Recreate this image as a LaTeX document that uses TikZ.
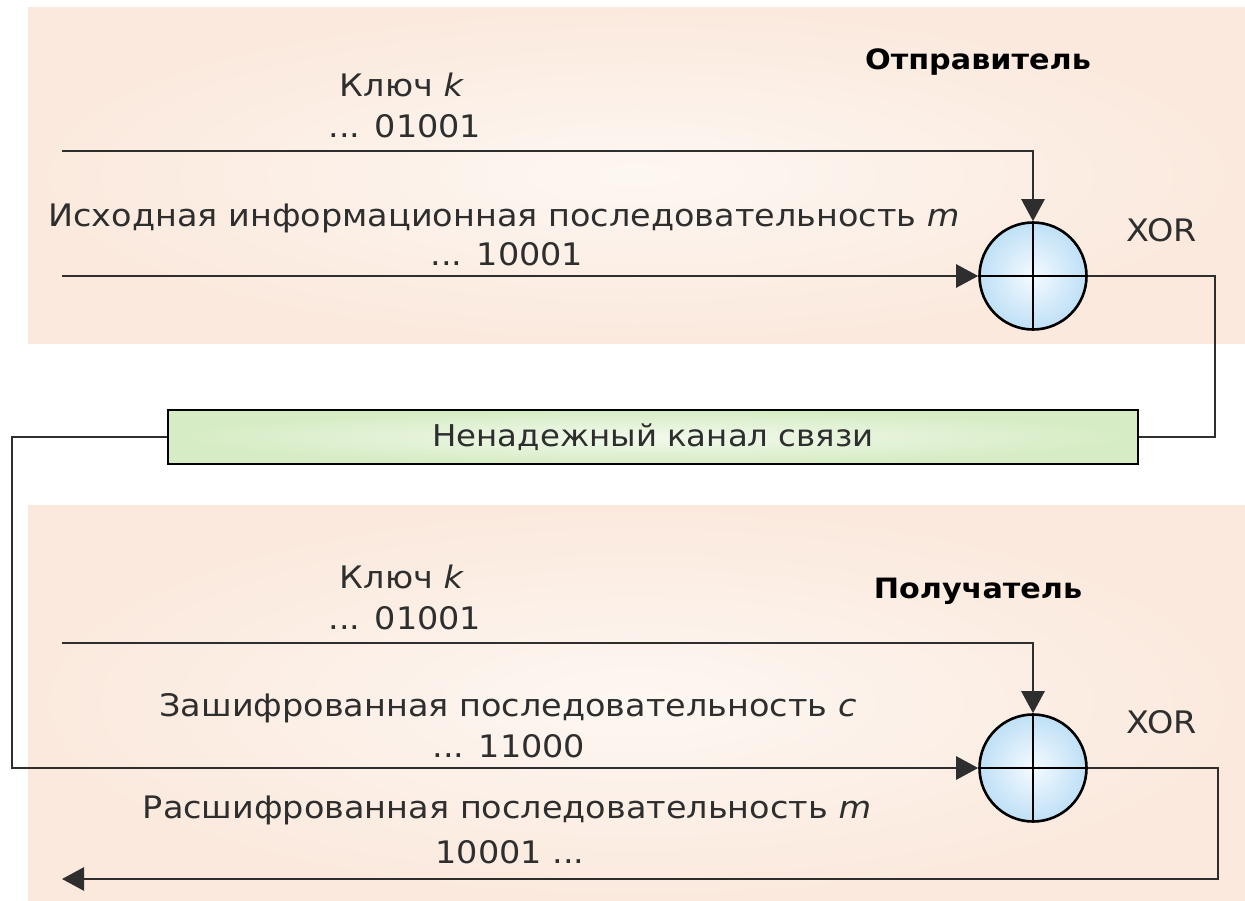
\documentclass[tikz,border=0pt]{standalone}
\usepackage{fontspec}
\setmainfont{DejaVu Sans}[FakeStretch=1.08]
\usetikzlibrary{arrows.meta}
\definecolor{panelout}{HTML}{FBE9DD}
\definecolor{panelin}{HTML}{FDF7F2}
\definecolor{chanout}{HTML}{D6ECC4}
\definecolor{chanin}{HTML}{F2F9EC}
\definecolor{xorout}{HTML}{BFE0F6}
\definecolor{xorin}{HTML}{F4FAFF}
\definecolor{ink}{HTML}{2E2E2E}
\tikzset{
  wire/.style={draw=ink, line width=2.6pt},
  flow/.style={wire, -{Triangle[length=22pt,width=23pt]}},
  xorc/.style={circle, draw=black, line width=2.6pt, minimum size=107pt, inner sep=0pt,
    inner color=xorin, outer color=xorout},
  chan/.style={rectangle, draw=black, line width=2.6pt, minimum width=970pt, minimum height=54pt,
    inner color=chanin, outer color=chanout, text=ink, font=\fontsize{30}{36}\selectfont},
  lbl/.style={text=ink, font=\fontsize{31}{37}\selectfont, inner sep=0pt, anchor=base},
  role/.style={text=black, font=\fontsize{28}{34}\selectfont\bfseries, inner sep=0pt, anchor=base},
}
\begin{document}
\begin{tikzpicture}[x=1pt, y=-1pt]
\useasboundingbox (0,0) rectangle (1245,900);
\fill[white] (0,0) rectangle (1245,900);

% sender and receiver panels
\shade[inner color=panelin, outer color=panelout] (28,7) rectangle (1245,343);
\shade[inner color=panelin, outer color=panelout] (28,505) rectangle (1245,900);

% sender side
\node[role] (snd) at (978,69) {Отправитель};
\node[lbl] (k1t) at (402,96) {Ключ \textit{k}};
\node[lbl] (k1v) at (405,137) {... 01001};
\node[lbl] (m1t) at (504,226) {Исходная информационная последовательность \textit{m}};
\node[lbl] (m1v) at (507,265) {... 10001};
\node[lbl] (xor1) at (1162,241) {XOR};
\node[xorc] (x1) at (1033,276) {};
\draw[black, line width=1.8pt] (x1.north) -- (x1.south) (x1.west) -- (x1.east);

\coordinate (k1) at (62,151);
\coordinate (m1) at (62,276);
\coordinate (r1) at (1215,276);
\draw[flow] (k1) -| (x1.north);
\draw[flow] (m1) -- (x1.west);

% channel
\node[chan] (ch) at (653,437) {Ненадежный канал связи};
\draw[wire] (x1.east) -- (r1) |- (ch.east);

% receiver side
\node[role] (rcv) at (978,598) {Получатель};
\node[lbl] (k2t) at (402,588) {Ключ \textit{k}};
\node[lbl] (k2v) at (405,629) {... 01001};
\node[lbl] (c2t) at (508,716) {Зашифрованная последовательность \textit{c}};
\node[lbl] (c2v) at (509,757) {... 11000};
\node[lbl] (xor2) at (1162,733) {XOR};
\node[lbl] (d2t) at (507,818) {Расшифрованная последовательность \textit{m}};
\node[lbl] (d2v) at (510,863) {10001 ...};
\node[xorc] (x2) at (1033,768) {};
\draw[black, line width=1.8pt] (x2.north) -- (x2.south) (x2.west) -- (x2.east);

\coordinate (k2) at (62,643);
\coordinate (l1) at (12,437);
\coordinate (r2) at (1218,768);
\coordinate (out) at (62,879);
\draw[flow] (k2) -| (x2.north);
\draw[flow] (ch.west) -- (l1) |- (x2.west);
\draw[flow] (x2.east) -- (r2) |- (out);
\end{tikzpicture}
\end{document}
